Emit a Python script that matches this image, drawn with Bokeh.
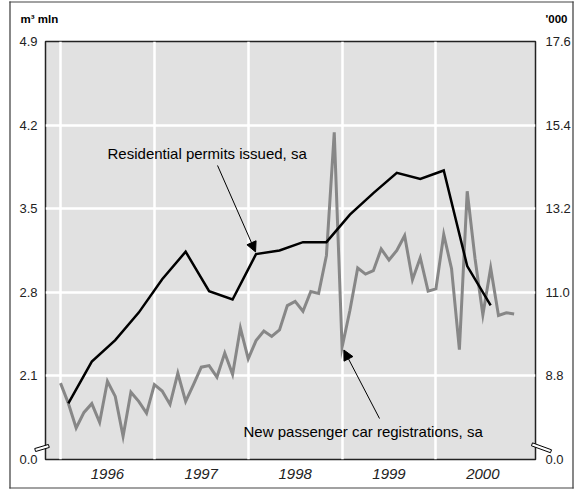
import numpy as np
from bokeh.plotting import figure
from bokeh.models import (Range1d, LinearAxis, FixedTicker, Label, Arrow, NormalHead)
from bokeh.embed import file_html
from bokeh.resources import INLINE

# New passenger car registrations, sa ('000), monthly from Jan 1996
car_start_year = 1996
car_values = [8.61, 8.08, 7.43, 7.84, 8.07, 7.58, 8.66, 8.26, 7.21, 8.37, 8.13, 7.82,
              8.57, 8.40, 8.05, 8.87, 8.13, 8.57, 9.03, 9.07, 8.77, 9.40, 8.84, 10.06,
              9.25, 9.73, 9.98, 9.84, 10.01, 10.65, 10.76, 10.50, 11.02, 10.97, 11.97, 15.21,
              9.55, 10.52, 11.64, 11.48, 11.57, 12.14, 11.85, 12.10, 12.49, 11.33, 11.91, 11.03,
              11.09, 12.52, 11.62, 9.49, 13.66, 11.89, 10.41, 11.64, 10.39, 10.46, 10.43]
# Residential permits issued, sa (m3 mln), quarterly from 1996 Q1
permit_start_year = 1996
permit_values = [1.87, 2.22, 2.40, 2.63, 2.91, 3.14, 2.81, 2.74, 3.12, 3.15, 3.22, 3.22,
                 3.45, 3.63, 3.80, 3.75, 3.82, 3.02, 2.69]
years = ["1996", "1997", "1998", "1999", "2000"]
left_ticks = [1.4, 2.1, 2.8, 3.5, 4.2, 4.9]
left_labels = ["0.0", "2.1", "2.8", "3.5", "4.2", "4.9"]
right_ticks = [6.6, 8.8, 11.0, 13.2, 15.4, 17.6]
right_labels = ["0.0", "8.8", "11.0", "13.2", "15.4", "17.6"]

car_x = [car_start_year + i / 12 for i in range(len(car_values))]
permit_x = [permit_start_year + (3 * q + 1) / 12 for q in range(len(permit_values))]
year_starts = [int(y) for y in years]
year_mids = [int(y) + 0.5 for y in years]

FONT = "Liberation Sans"

p = figure(width=575, height=490, output_backend="svg", toolbar_location=None,
           x_range=Range1d(1995.84, 2001.061), y_range=Range1d(left_ticks[0], left_ticks[-1]),
           min_border_left=45, min_border_right=40, min_border_top=41, min_border_bottom=31,
           background_fill_color="#e1e1e1", border_fill_color="white",
           outline_line_color="#222222", outline_line_width=1.5)
p.extra_y_ranges = {"cars": Range1d(right_ticks[0], right_ticks[-1])}

# grids
p.xgrid.ticker = FixedTicker(ticks=year_starts)
p.ygrid.ticker = FixedTicker(ticks=left_ticks[1:-1])
for g in (p.xgrid[0], p.ygrid[0]):
    g.grid_line_color = "white"
    g.grid_line_width = 2.5

# axes
def style_axis(ax, size="13px"):
    ax.axis_line_color = None
    ax.major_tick_line_color = None
    ax.minor_tick_line_color = None
    ax.major_tick_out = 0
    ax.major_tick_in = 0
    ax.minor_tick_out = 0
    ax.major_label_text_font = FONT
    ax.major_label_text_font_size = size
    ax.major_label_text_color = "#222222"

xa = p.xaxis[0]
xa.ticker = FixedTicker(ticks=year_mids)
xa.major_label_overrides = {m: y for m, y in zip(year_mids, years)}
style_axis(xa, "15px")
xa.major_label_text_font_style = "italic"
xa.major_label_standoff = 9

ya = p.yaxis[0]
ya.ticker = FixedTicker(ticks=left_ticks)
ya.major_label_overrides = dict(zip(left_ticks, left_labels))
style_axis(ya)
ya.major_label_standoff = 8

ra = LinearAxis(y_range_name="cars")
ra.ticker = FixedTicker(ticks=right_ticks)
ra.major_label_overrides = dict(zip(right_ticks, right_labels))
style_axis(ra)
ra.major_label_standoff = 10
p.add_layout(ra, "right")

# series
p.line(car_x, car_values, y_range_name="cars", line_color="#878787", line_width=3,
       line_join="miter")
p.line(permit_x, permit_values, line_color="black", line_width=2.5, line_join="miter")

# annotations
p.add_layout(Label(x=1996.501, y=3.963, text="Residential permits issued, sa",
                   text_font=FONT, text_font_size="15px", text_baseline="middle",
                   text_color="black"))
p.add_layout(Label(x=1997.950, y=1.635, text="New passenger car registrations, sa",
                   text_font=FONT, text_font_size="15px", text_baseline="middle",
                   text_color="black"))
p.add_layout(Arrow(end=NormalHead(size=10, fill_color="black", line_color="black"),
                   x_start=1997.673, y_start=3.862, x_end=1998.078, y_end=3.138,
                   line_width=1, line_color="black"))
p.add_layout(Arrow(end=NormalHead(size=10, fill_color="black", line_color="black"),
                   x_start=1999.399, y_start=1.743, x_end=1999.019, y_end=2.317,
                   line_width=1, line_color="black"))

# unit labels (canvas pixels), placed in the top side panel so they are not clipped
p.add_layout(Label(x=20, y=18, x_units="canvas", y_units="canvas",
                   text="m³ mln", text_font=FONT, text_font_size="11.5px",
                   text_font_style="bold", text_baseline="middle", text_color="black"), "above")
p.add_layout(Label(x=567, y=18, x_units="canvas", y_units="canvas",
                   text="'000", text_font=FONT, text_font_size="11.5px",
                   text_font_style="bold", text_baseline="middle", text_align="right",
                   text_color="black"), "above")

# decorative boxes (axis breaks, outer border) drawn as empty padded labels
# padding order: (left, right, top, bottom)
def box(x, y, pad_l, pad_r, pad_t, pad_b, panel, angle=0, fill=None, line=None):
    p.add_layout(Label(x=x, y=y, x_units="canvas", y_units="canvas", text="\u00a0",
                       text_font_size="1px", text_align="center", text_baseline="middle",
                       angle=angle, angle_units="deg",
                       padding=(pad_l, pad_r, pad_t, pad_b),
                       background_fill_color=fill, border_line_color=line,
                       border_line_width=1), panel)

# axis breaks
box(41.5, 447.5, 7, 7, 1, 1, "left", angle=16.5, fill="white", line="black")
box(541, 447.3, 10, 10, 1, 1, "above", angle=-20, fill="white", line="black")
# outer border
box(291, 1.5, 282, 282, 0, 0, "below", fill="#444444")
box(291, 487.5, 282, 282, 0, 0, "below", fill="#444444")
box(9.5, 244.5, 0, 1, 243, 243, "right", fill="#444444")
box(572.5, 244.5, 0, 1, 243, 243, "right", fill="#444444")

open("out.html", "w").write(file_html(p, INLINE))
